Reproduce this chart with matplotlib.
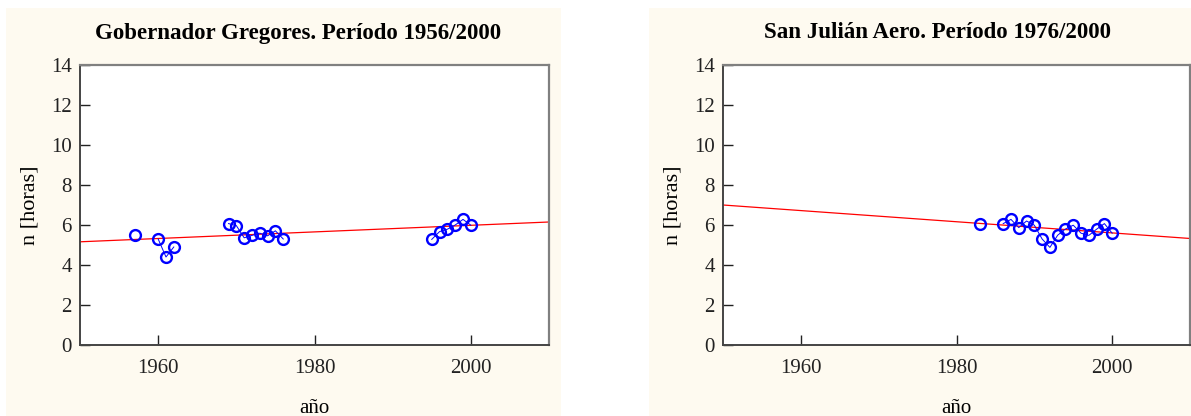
import numpy as np
import matplotlib
matplotlib.use("Agg")
import matplotlib.pyplot as plt
from matplotlib.patches import Rectangle

plt.rcParams['font.family'] = ['Liberation Serif', 'DejaVu Serif']

# Gobernador Gregores (NaN = missing year)
gg_years = np.arange(1957, 2001)
gg_vals = {1957: 5.5, 1960: 5.3, 1961: 4.4, 1962: 4.9,
           1969: 6.07, 1970: 5.97, 1971: 5.36, 1972: 5.48, 1973: 5.59,
           1974: 5.46, 1975: 5.71, 1976: 5.3,
           1995: 5.28, 1996: 5.67, 1997: 5.79, 1998: 6.0, 1999: 6.28, 2000: 5.99}
gg_n = np.array([gg_vals.get(y, np.nan) for y in gg_years])
gg_trend = (5.16, 0.0165)   # value at 1950, slope per year

# San Julian Aero
sj_years = np.arange(1983, 2001)
sj_vals = {1983: 6.07, 1986: 6.07, 1987: 6.28, 1988: 5.87, 1989: 6.2,
           1990: 5.99, 1991: 5.3, 1992: 4.88, 1993: 5.49, 1994: 5.8,
           1995: 5.99, 1996: 5.59, 1997: 5.48, 1998: 5.79, 1999: 6.07, 2000: 5.59}
sj_n = np.array([sj_vals.get(y, np.nan) for y in sj_years])
sj_trend = (7.0, -0.0279)

W, H = 1191, 416
fig = plt.figure(figsize=(W / 100, H / 100), dpi=100)
bg = '#fefaf0'
fig.patches.append(Rectangle((6 / W, 0), 555 / W, 408 / H, transform=fig.transFigure,
                             facecolor=bg, edgecolor='none', zorder=-1))
fig.patches.append(Rectangle((649 / W, 0), 542 / W, 408 / H, transform=fig.transFigure,
                             facecolor=bg, edgecolor='none', zorder=-1))


def panel(left_px, width_px, title, title_x, years, n, trend):
    ax = fig.add_axes([left_px / W, 71 / H, width_px / W, 280 / H])
    ax.set_facecolor('white')
    tx = np.array([1950, 2010])
    ax.plot(tx, trend[0] + trend[1] * (tx - 1950), color='red', lw=0.9, zorder=2)
    ax.plot(years, n, color='blue', lw=0.7, marker='o', ms=7.8, mfc='none',
            mec='blue', mew=1.7, zorder=3)
    ax.set_xlim(1950, 2010)
    ax.set_ylim(0, 14)
    ax.set_xticks([1960, 1980, 2000])
    ax.set_yticks(range(0, 15, 2))
    ax.tick_params(direction='in', length=7, width=1, labelsize=15, colors='#222222',
                   pad=6)
    ax.tick_params(axis='x', pad=10)
    for s in ['top', 'right']:
        ax.spines[s].set_color('#808080')
        ax.spines[s].set_linewidth(1.6)
    for s in ['left', 'bottom']:
        ax.spines[s].set_color('#444444')
        ax.spines[s].set_linewidth(1.4)
    ax.set_xlabel('año', fontsize=15, labelpad=15)
    ax.set_ylabel('n [horas]', fontsize=16, labelpad=8)
    fig.text(title_x / W, 1 - 33 / H, title, ha='center', va='center',
             fontsize=16.5, fontweight='bold')
    return ax


panel(80, 469, 'Gobernador Gregores. Período 1956/2000', 298, gg_years, gg_n, gg_trend)
panel(723, 467, 'San Julián Aero. Período 1976/2000', 938, sj_years, sj_n, sj_trend)

fig.savefig('out.png', dpi=100)
